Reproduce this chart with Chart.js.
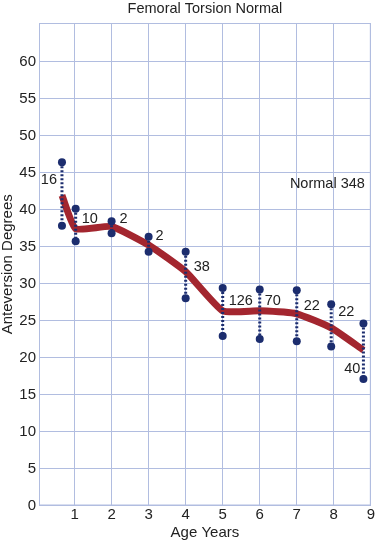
<!DOCTYPE html>
<html>
<head>
<meta charset="utf-8">
<script src="https://cdn.jsdelivr.net/npm/chart.js@4.4.1/dist/chart.umd.min.js"></script>
<style>
  html, body { margin: 0; padding: 0; background: #fff; }
  canvas { display: block; }
</style>
</head>
<body>
<canvas id="torsion" width="377" height="541"></canvas>
<script>
// age groups (years) and anteversion degrees
const ages   = [0.66, 1.03, 2, 3, 4, 5, 6, 7, 7.93, 8.8];
const means  = [41.9, 37.4, 37.7, 35.2, 31.6, 26.3, 26.3, 25.9, 24.0, 21.0];
const highs  = [46.4, 40.1, 38.4, 36.3, 34.3, 29.4, 29.2, 29.1, 27.2, 24.6];
const lows   = [37.8, 35.7, 36.8, 34.3, 28.0, 22.9, 22.5, 22.2, 21.5, 17.1];
const counts = [16, 10, 2, 2, 38, 126, 70, 22, 22, 40];

const xTicks = [1, 2, 3, 4, 5, 6, 7, 8, 9];
const yTicks = [0, 5, 10, 15, 20, 25, 30, 35, 40, 45, 50, 55, 60];

const gridColor = '#b1bde0';
const navy = '#1c2d6e';
const red = '#a3262f';
const font = 'Liberation Sans, Arial, Helvetica, sans-serif';

// vertical range bars, one segment per age, split by null gaps
const rangePts = [];
ages.forEach((a, i) => {
  rangePts.push({x: a, y: highs[i]});
  rangePts.push({x: a, y: lows[i]});
  rangePts.push({x: a, y: null});
});

// labels with the number of cases beside each bar, title over the plot area
const countLabels = {
  id: 'countLabels',
  afterDatasetsDraw(chart, args, opts) {
    const {ctx, scales: {x, y}, chartArea} = chart;
    ctx.save();
    ctx.font = '14.5px ' + font;
    ctx.fillStyle = '#222';
    ctx.textBaseline = 'middle';
    counts.forEach((c, i) => {
      const left = opts.side[i] === 'left';
      ctx.textAlign = left ? 'right' : 'left';
      ctx.fillText(String(c), x.getPixelForValue(ages[i]) + opts.dx[i], y.getPixelForValue(means[i]) + opts.dy[i]);
    });
    ctx.textAlign = 'right';
    ctx.fillText(opts.note, chartArea.right - 6, y.getPixelForValue(43.4));
    ctx.textAlign = 'center';
    ctx.fillText(opts.title, (chartArea.left + chartArea.right) / 2, 8.5);
    // frame round the plot
    ctx.strokeStyle = gridColor;
    ctx.lineWidth = 1;
    ctx.strokeRect(chartArea.left + 0.5, chartArea.top + 0.5, chartArea.width - 1, chartArea.height - 1);
    ctx.restore();
  }
};

new Chart(document.getElementById('torsion'), {
  type: 'scatter',
  data: {
    datasets: [
      {
        data: rangePts,
        showLine: true,
        spanGaps: false,
        borderColor: navy,
        borderWidth: 3,
        borderDash: [2, 2],
        pointRadius: 4,
        pointBackgroundColor: navy,
        pointBorderWidth: 0,
        order: 0,
      },
      {
        data: ages.map((a, i) => ({x: a, y: means[i]})),
        showLine: true,
        borderColor: red,
        borderWidth: 7,
        borderJoinStyle: 'round',
        tension: 0.15,
        pointRadius: 0,
        order: 1,
      },
    ],
  },
  options: {
    responsive: false,
    animation: false,
    layout: { padding: { left: 0, right: 3, top: 23, bottom: 0 } },
    scales: {
      x: {
        type: 'linear',
        min: 0.04,
        max: 9,
        afterBuildTicks: s => { s.ticks = xTicks.map(v => ({value: v})); },
        grid: { color: gridColor, drawTicks: false },
        border: { color: gridColor },
        ticks: { padding: 2, color: '#222', font: { family: font, size: 15, lineHeight: 1 } },
        title: { display: true, text: 'Age Years', color: '#222', padding: 0, font: { family: font, size: 15, lineHeight: 1.1 } },
      },
      y: {
        min: 0,
        max: 65.2,
        afterBuildTicks: s => { s.ticks = yTicks.map(v => ({value: v})); },
        afterFit: s => { s.width = 39; },
        grid: { color: gridColor, drawTicks: false },
        border: { color: gridColor },
        ticks: { padding: 3, color: '#222', font: { family: font, size: 15 } },
        title: { display: true, text: 'Anteversion Degrees', color: '#222', padding: 0, font: { family: font, size: 15, lineHeight: 1.1 } },
      },
    },
    plugins: {
      legend: { display: false },
      tooltip: { enabled: false },
      title: { display: false },
      countLabels: {
        side: ['left', 'right', 'right', 'right', 'right', 'right', 'right', 'right', 'right', 'left'],
        dx: [-5, 6, 8, 7, 8, 6, 5, 7, 7, -3],
        dy: [-15, -10, -8, -9, -5, -10, -10, -8, -16, 19],
        note: 'Normal 348',
        title: 'Femoral Torsion Normal',
      },
    },
  },
  plugins: [countLabels],
});
</script>
</body>
</html>
